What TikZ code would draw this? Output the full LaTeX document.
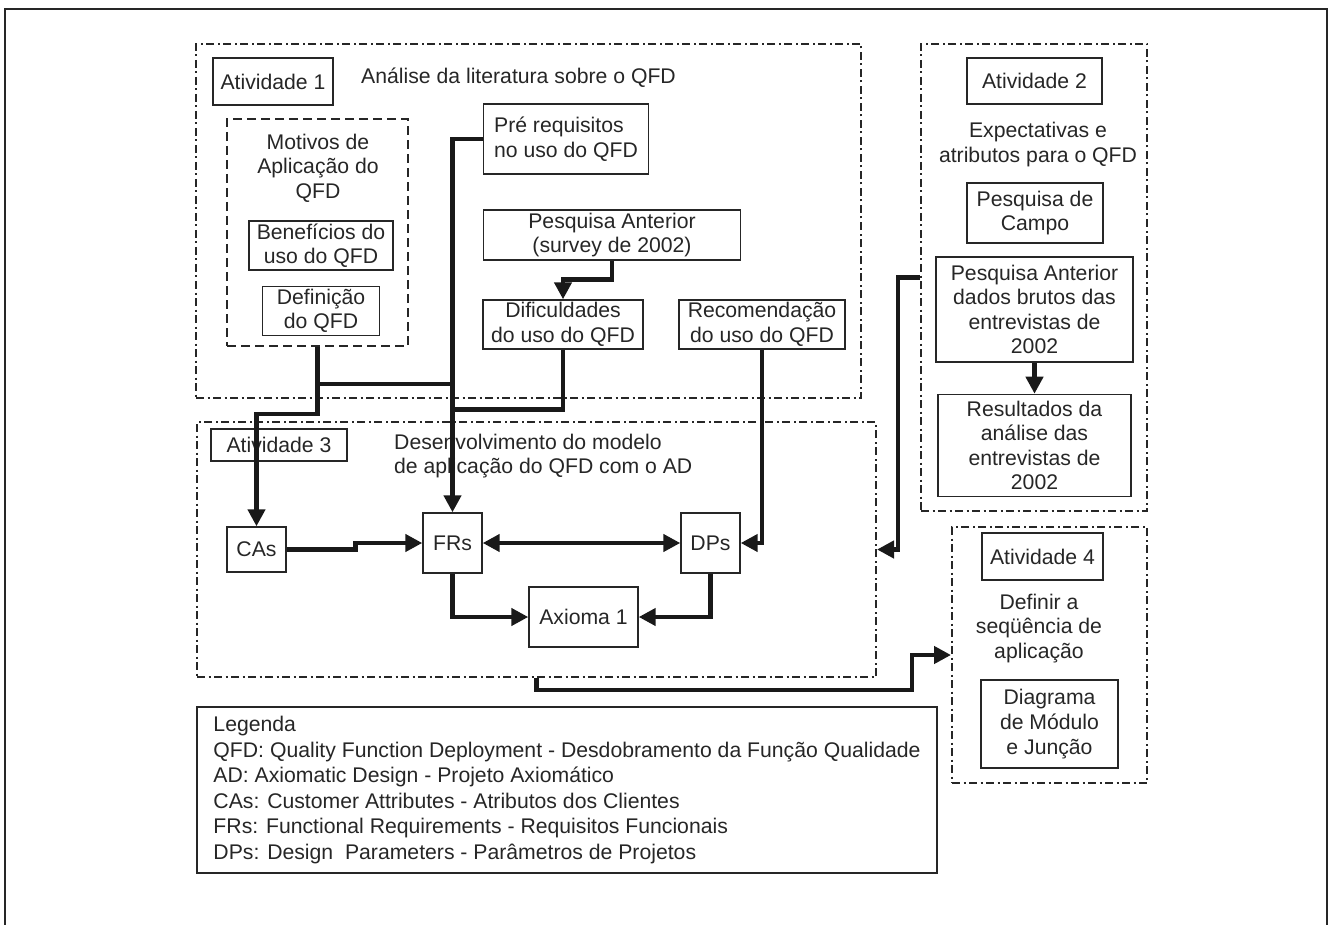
\documentclass[tikz,border=0pt]{standalone}
\usepackage{fontspec}
\setmainfont{Liberation Sans}
\usetikzlibrary{arrows.meta, positioning}

\begin{document}
\begin{tikzpicture}[
  x=1pt, y=-1pt,
  every node/.style={font=\fontsize{21.2}{24.6}\selectfont, text=black!85},
  box/.style={draw=black!85, line width=1.4pt, align=center, inner sep=0pt},
  txt/.style={align=center, inner sep=0pt},
  frame/.style={draw=black!85, line width=2pt, inner sep=0pt,
                dash pattern=on 8pt off 3.5pt on 2pt off 3.5pt},
  dbox/.style={draw=black!85, line width=2pt, inner sep=0pt,
               dash pattern=on 9pt off 5pt},
  conn/.style={draw=black!90, line width=4.5pt},
  arr/.style={conn, -{Triangle[length=17pt, width=17pt]}}
]
  \useasboundingbox (0,0) rectangle (1329,925);
  \draw[black!85, line width=2pt] (5,925) |- (1327,9) -- (1327,925);

  % activity frames
  \node[frame, minimum width=665pt, minimum height=354pt] (act1) at (528.5,221) {};
  \node[frame, minimum width=226pt, minimum height=467pt] (act2) at (1034,277.5) {};
  \node[frame, minimum width=679pt, minimum height=255pt] (act3) at (536.5,549.5) {};
  \node[frame, minimum width=195pt, minimum height=256pt] (act4) at (1049.5,655) {};

  % activity 1
  \node[box, minimum width=120pt, minimum height=47pt] (lab1) at (273,81.5) {Atividade 1};
  \node[txt, anchor=west] (tit1) at (361,78) {Análise da literatura sobre o QFD};
  \node[dbox, minimum width=181pt, minimum height=227pt] (mot) at (317.5,232.5) {};
  \node[txt] (mottxt) at (318,168) {Motivos de\\Aplicação do\\QFD};
  \node[box, minimum width=144pt, minimum height=49pt] (ben) at (321,245.5) {Benefícios do\\uso do QFD};
  \node[box, minimum width=117pt, minimum height=49pt, below=15pt of ben] (def) {Definição\\do QFD};
  \node[box, align=left, minimum width=165pt, minimum height=70pt] (pre) at (566,139) {Pré requisitos\\no uso do QFD};
  \node[box, minimum width=257pt, minimum height=50pt] (pesq) at (612,235) {Pesquisa Anterior\\(survey de 2002)};
  \node[box, minimum width=160pt, minimum height=49pt] (dif) at (563,324.5) {Dificuldades\\do uso do QFD};
  \node[box, minimum width=166pt, minimum height=49pt] (rec) at (762,324.5) {Recomendação\\do uso do QFD};

  % activity 2
  \node[box, minimum width=135pt, minimum height=46pt] (lab2) at (1034.5,81) {Atividade 2};
  \node[txt] (tit2) at (1038,144.5) {Expectativas e\\atributos para o QFD};
  \node[box, minimum width=136pt, minimum height=60pt] (campo) at (1035,213) {Pesquisa de\\Campo};
  \node[box, minimum width=197pt, minimum height=105pt] (pant) at (1034.5,309.5) {Pesquisa Anterior\\dados brutos das\\entrevistas de\\2002};
  \node[box, minimum width=193pt, minimum height=102pt, below=31pt of pant] (res) {Resultados da\\análise das\\entrevistas de\\2002};

  % activity 3
  \node[box, minimum width=136pt, minimum height=32pt] (lab3) at (279,445) {Atividade 3};
  \node[txt, align=left, anchor=west] (tit3) at (394,456) {Desenvolvimento do modelo\\de aplicação do QFD com o AD};
  \node[box, minimum width=59pt, minimum height=45pt] (cas) at (256.5,549.5) {CAs};
  \node[box, minimum width=59pt, minimum height=60pt] (frs) at (452.5,543) {FRs};
  \node[box, minimum width=59pt, minimum height=60pt] (dps) at (710.5,543) {DPs};
  \node[box, minimum width=109pt, minimum height=60pt] (ax) at (583.5,617) {Axioma 1};

  % activity 4
  \node[box, minimum width=121pt, minimum height=47pt] (lab4) at (1042.5,556.5) {Atividade 4};
  \node[txt] (tit4) at (1039,628.5) {Definir a\\seqüência de\\aplicação};
  \node[box, minimum width=137pt, minimum height=88pt] (diag) at (1049.5,724) {Diagrama\\de Módulo\\e Junção};

  % legend
  \node[box, line width=1.5pt, align=left, minimum width=740pt, minimum height=166pt,
        font=\fontsize{21.2}{25.5}\selectfont] (leg) at (567,790)
    {Legenda\\
     QFD: Quality Function Deployment - Desdobramento da Função Qualidade\\
     AD: Axiomatic Design - Projeto Axiomático\\
     CAs: Customer Attributes - Atributos dos Clientes\\
     FRs: Functional Requirements - Requisitos Funcionais\\
     DPs: Design~ Parameters - Parâmetros de Projetos};

  % connectors
  \draw[arr] (pesq.south) -- ++(0,19) -| (dif.north);
  \draw[arr] (pre.west) -| (frs.north);
  \draw[arr] (mot.south) -- ++(0,67) -| (cas.north);
  \draw[conn] (mot.south) ++(0,37) coordinate (bus1) -- (bus1 -| frs.north);
  \draw[conn] (dif.south) -- ++(0,60) coordinate (bus2) -- (bus2 -| frs.north);
  \draw[arr] (rec.south) |- (dps.east);
  \draw[arr] (cas.east) -- ++(69,0) |- (frs.west);
  \draw[arr, {Triangle[length=17pt, width=17pt]}-{Triangle[length=17pt, width=17pt]}] (frs.east) -- (dps.west);
  \draw[arr] (frs.south) |- (ax.west);
  \draw[arr] (dps.south) |- (ax.east);
  \draw[arr] (pant.south) -- (pant.south |- res.north);
  \draw[arr] (act2.west) -- ++(-22,0) |- (act3.east);
  \draw[arr] (act3.south) -- ++(0,12) -| ([xshift=-39pt]act4.west) -- (act4.west);
\end{tikzpicture}
\end{document}
